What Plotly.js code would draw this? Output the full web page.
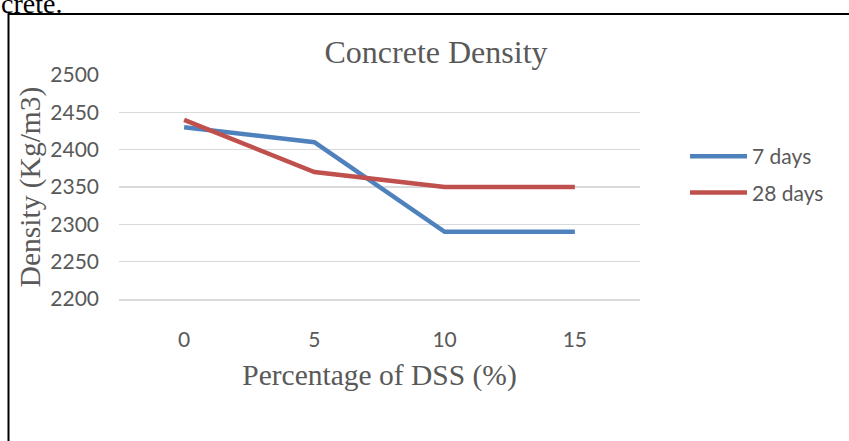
<!DOCTYPE html>
<html>
<head>
<meta charset="utf-8">
<script src="https://cdn.plot.ly/plotly-3.0.1.min.js"></script>
<style>html,body{margin:0;padding:0;background:#fff;}#chart{width:849px;height:441px;}</style>
</head>
<body>
<div id="chart"></div>
<script>
// Data
const categories = ["0", "5", "10", "15"];
const days7 = [2430, 2410, 2290, 2290];
const days28 = [2440, 2370, 2350, 2350];
const seriesNames = ["7 days", "28 days"];
const yTicks = [2200, 2250, 2300, 2350, 2400, 2450, 2500];

const W = 849, H = 441;
const L = 119, R = 209, T = 75, B = 142;
const pw = W - L - R, ph = H - T - B;
const px = x => (x - L) / pw;
const py = y => (H - B - y) / ph;

const serif = "Liberation Serif, Times New Roman, serif";
const sans = "Lato, Carlito, Calibri, sans-serif";
const grey = "#595959";

const traces = [
  {x: categories, y: days7, name: seriesNames[0], type: "scatter", mode: "lines",
   line: {color: "#4F81BD", width: 4.5}, legendgroup: "a"},
  {x: categories, y: days28, name: seriesNames[1], type: "scatter", mode: "lines",
   line: {color: "#C0504D", width: 4.5}, legendgroup: "b"}
];

const layout = {
  width: W, height: H,
  margin: {l: L, r: R, t: T, b: B, pad: 0},
  paper_bgcolor: "#fff", plot_bgcolor: "#fff",
  showlegend: true,
  title: {text: "Concrete Density", font: {family: serif, size: 32, color: grey},
          x: px(436), xanchor: "center", xref: "paper", y: 1 - 52 / H, yanchor: "middle"},
  xaxis: {type: "category", range: [-0.5, 3.5], showgrid: false, zeroline: false,
          showline: true, linecolor: "#d9d9d9", linewidth: 1.5, ticks: "",
          tickfont: {family: sans, size: 21, color: grey}, ticklabelstandoff: 21,
          title: {text: "Percentage of DSS (%)", font: {family: serif, size: 29.5, color: grey}, standoff: 14},
          automargin: false, fixedrange: true},
  yaxis: {range: [2200, 2500], tickvals: yTicks, showgrid: true, gridcolor: "#d9d9d9", gridwidth: 1.5,
          zeroline: false, showline: false, ticks: "",
          tickfont: {family: sans, size: 21, color: grey}, ticklabelstandoff: 19,
          title: {text: "Density (Kg/m3)", font: {family: serif, size: 29.5, color: grey}, standoff: 0},
          automargin: false, fixedrange: true},
  legend: {x: px(685), xanchor: "left", y: py(136), yanchor: "top",
           font: {family: sans, size: 21, color: grey}, traceorder: "grouped", tracegroupgap: 6,
           bgcolor: "rgba(0,0,0,0)", itemwidth: 57},
  shapes: [
    {type: "rect", xref: "paper", yref: "paper", x0: px(8.5), x1: px(855), y0: py(14), y1: py(450),
     line: {color: "#000", width: 2}, fillcolor: "rgba(0,0,0,0)", layer: "below"}
  ],
  annotations: [
    {text: "crete.", xref: "paper", yref: "paper", x: px(-1), y: py(4), xanchor: "left", yanchor: "middle",
     showarrow: false, font: {family: serif, size: 28, color: "#000"}}
  ]
};

Plotly.newPlot("chart", traces, layout, {displayModeBar: false, staticPlot: true});
</script>
</body>
</html>
